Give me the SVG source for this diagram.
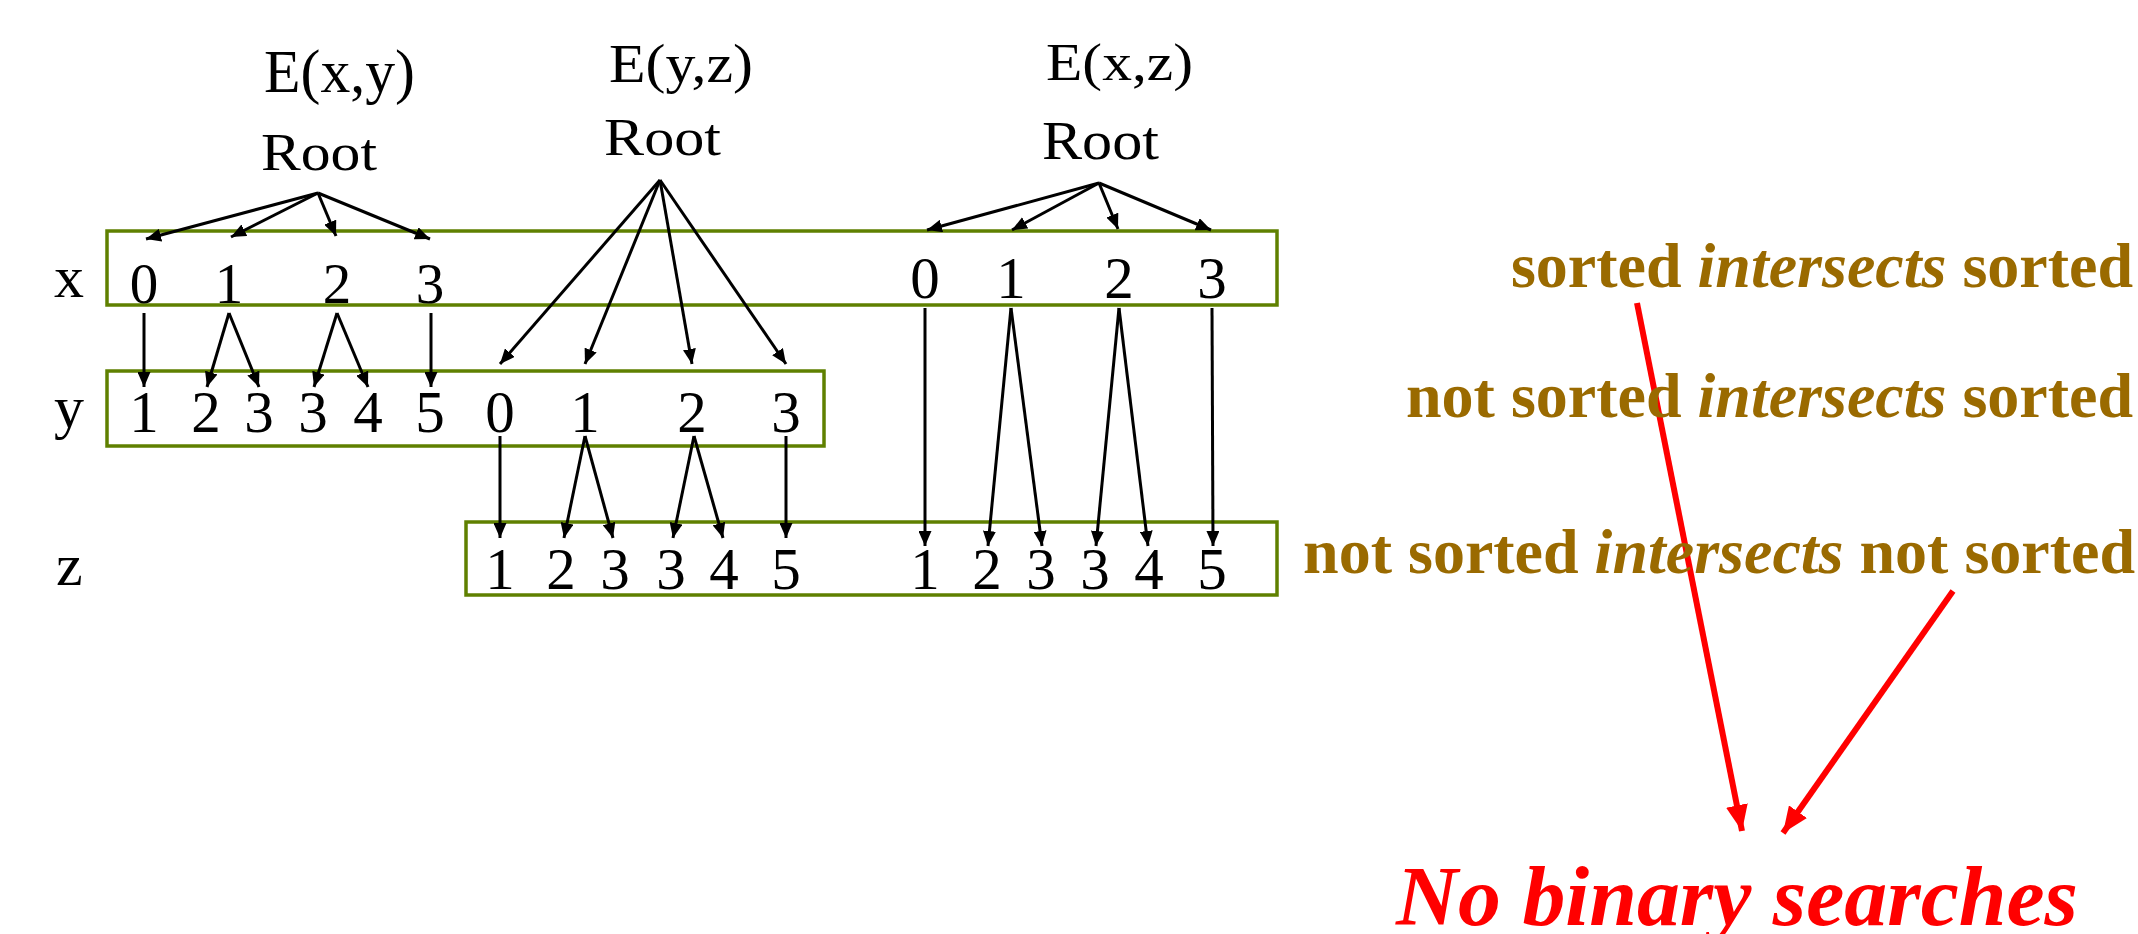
<svg xmlns="http://www.w3.org/2000/svg" width="2138" height="934" viewBox="0 0 2138 934">
  <style>
    .lbl { font-family: "Liberation Serif", "Times New Roman", serif; fill: #000; }
    .dig { font-family: "Liberation Serif", "Times New Roman", serif; fill: #000; font-size: 59px; text-anchor: middle; }
    .box { fill: none; stroke: #5f8000; stroke-width: 3.5; }
    .edge { stroke: #000; stroke-width: 3; fill: none; marker-end: url(#ah); }
    .hint { stroke: #ff0000; stroke-width: 6; fill: none; marker-end: url(#ahr); }
    .note { font-family: "Liberation Serif", "Times New Roman", serif; font-weight: bold; fill: #9a6a00; font-size: 64px; text-anchor: end; }
    .em { font-style: italic; }
    .verdict { font-family: "Liberation Serif", "Times New Roman", serif; font-weight: bold; font-style: italic; fill: #ff0000; font-size: 85px; }
  </style>
  <defs>
    <marker id="ah" viewBox="0 0 15 13" refX="15" refY="6.5" markerWidth="15" markerHeight="13" markerUnits="userSpaceOnUse" orient="auto">
      <path d="M0,0 L15,6.5 L0,13 z" fill="#000"/>
    </marker>
    <marker id="ahr" viewBox="0 0 26 22" refX="26" refY="11" markerWidth="26" markerHeight="22" markerUnits="userSpaceOnUse" orient="auto">
      <path d="M0,0 L26,11 L0,22 z" fill="#ff0000"/>
    </marker>
  </defs>
  <rect width="2138" height="934" fill="#fff"/>

  <!-- variable labels -->
  <g id="var-labels" class="lbl" font-size="60">
    <text x="54" y="297">x</text>
    <text x="54" y="427">y</text>
    <text x="56" y="585">z</text>
  </g>

  <!-- tree roots -->
  <g id="root-exy" class="lbl">
    <text x="264" y="92" font-size="61" textLength="151" lengthAdjust="spacingAndGlyphs">E(x,y)</text>
    <text x="261" y="170" font-size="53" textLength="116" lengthAdjust="spacingAndGlyphs">Root</text>
  </g>
  <g id="root-eyz" class="lbl">
    <text x="609" y="82" font-size="54" textLength="144" lengthAdjust="spacingAndGlyphs">E(y,z)</text>
    <text x="604" y="155" font-size="53" textLength="117" lengthAdjust="spacingAndGlyphs">Root</text>
  </g>
  <g id="root-exz" class="lbl">
    <text x="1046" y="80" font-size="53" textLength="147" lengthAdjust="spacingAndGlyphs">E(x,z)</text>
    <text x="1042" y="159" font-size="54" textLength="117" lengthAdjust="spacingAndGlyphs">Root</text>
  </g>

  <!-- x level -->
  <g id="level-x">
    <rect class="box" x="107" y="231" width="1170" height="74"/>
    <g class="dig">
      <text x="144" y="303" font-size="57">0</text>
      <text x="229" y="303" font-size="57">1</text>
      <text x="337" y="303" font-size="57">2</text>
      <text x="430" y="303" font-size="57">3</text>
      <text x="925" y="298">0</text>
      <text x="1011" y="298">1</text>
      <text x="1119" y="298">2</text>
      <text x="1212" y="298">3</text>
    </g>
  </g>

  <!-- y level -->
  <g id="level-y">
    <rect class="box" x="107" y="371" width="717" height="75"/>
    <g class="dig">
      <text x="144" y="432">1</text>
      <text x="206" y="432">2</text>
      <text x="259" y="432">3</text>
      <text x="313" y="432">3</text>
      <text x="368" y="432">4</text>
      <text x="430" y="432">5</text>
      <text x="500" y="432">0</text>
      <text x="585" y="432">1</text>
      <text x="692" y="432">2</text>
      <text x="786" y="432">3</text>
    </g>
  </g>

  <!-- z level -->
  <g id="level-z">
    <rect class="box" x="466" y="522" width="811" height="73"/>
    <g class="dig">
      <text x="500" y="589">1</text>
      <text x="561" y="589">2</text>
      <text x="615" y="589">3</text>
      <text x="671" y="589">3</text>
      <text x="724" y="589">4</text>
      <text x="786" y="589">5</text>
      <text x="925" y="589">1</text>
      <text x="987" y="589">2</text>
      <text x="1041" y="589">3</text>
      <text x="1095" y="589">3</text>
      <text x="1149" y="589">4</text>
      <text x="1212" y="589">5</text>
    </g>
  </g>

  <!-- tree edges -->
  <g id="connectors">
    <!-- E(x,y): root to x values -->
    <line class="edge" x1="318" y1="193" x2="146" y2="239"/>
    <line class="edge" x1="318" y1="193" x2="231" y2="237"/>
    <line class="edge" x1="318" y1="193" x2="336" y2="236"/>
    <line class="edge" x1="318" y1="193" x2="430" y2="239"/>
    <!-- E(x,y): x values to y values -->
    <line class="edge" x1="144" y1="313" x2="144" y2="387"/>
    <line class="edge" x1="229" y1="313" x2="207" y2="387"/>
    <line class="edge" x1="229" y1="313" x2="259" y2="387"/>
    <line class="edge" x1="337" y1="313" x2="314" y2="387"/>
    <line class="edge" x1="337" y1="313" x2="368" y2="387"/>
    <line class="edge" x1="431" y1="313" x2="431" y2="387"/>

    <!-- E(y,z): root to y values -->
    <line class="edge" x1="660" y1="180" x2="500" y2="364"/>
    <line class="edge" x1="660" y1="180" x2="585" y2="364"/>
    <line class="edge" x1="660" y1="180" x2="692" y2="364"/>
    <line class="edge" x1="660" y1="180" x2="786" y2="364"/>
    <!-- E(y,z): y values to z values -->
    <line class="edge" x1="500" y1="436" x2="500" y2="538"/>
    <line class="edge" x1="585" y1="436" x2="564" y2="538"/>
    <line class="edge" x1="585" y1="436" x2="613" y2="538"/>
    <line class="edge" x1="694" y1="436" x2="673" y2="538"/>
    <line class="edge" x1="694" y1="436" x2="723" y2="538"/>
    <line class="edge" x1="786" y1="436" x2="786" y2="538"/>

    <!-- E(x,z): root to x values -->
    <line class="edge" x1="1099" y1="183" x2="927" y2="230"/>
    <line class="edge" x1="1099" y1="183" x2="1012" y2="230"/>
    <line class="edge" x1="1099" y1="183" x2="1118" y2="229"/>
    <line class="edge" x1="1099" y1="183" x2="1211" y2="230"/>
    <!-- E(x,z): x values to z values -->
    <line class="edge" x1="925" y1="308" x2="925" y2="546"/>
    <line class="edge" x1="1011" y1="308" x2="988" y2="546"/>
    <line class="edge" x1="1011" y1="308" x2="1042" y2="546"/>
    <line class="edge" x1="1119" y1="308" x2="1096" y2="546"/>
    <line class="edge" x1="1119" y1="308" x2="1148" y2="546"/>
    <line class="edge" x1="1212" y1="308" x2="1213" y2="546"/>

    <!-- pointers to the conclusion -->
    <line class="hint" x1="1637" y1="303" x2="1742" y2="831"/>
    <line class="hint" x1="1953" y1="591" x2="1783" y2="833"/>
  </g>

  <!-- intersection cases -->
  <g id="cases">
    <text class="note" x="2133" y="287">sorted <tspan class="em">intersects</tspan> sorted</text>
    <text class="note" x="2133" y="417">not sorted <tspan class="em">intersects</tspan> sorted</text>
    <text class="note" x="2135" y="573">not sorted <tspan class="em">intersects</tspan> not sorted</text>
  </g>

  <!-- conclusion -->
  <g id="conclusion">
    <text class="verdict" x="1396" y="925" textLength="682" lengthAdjust="spacingAndGlyphs">No binary searches</text>
  </g>
</svg>
